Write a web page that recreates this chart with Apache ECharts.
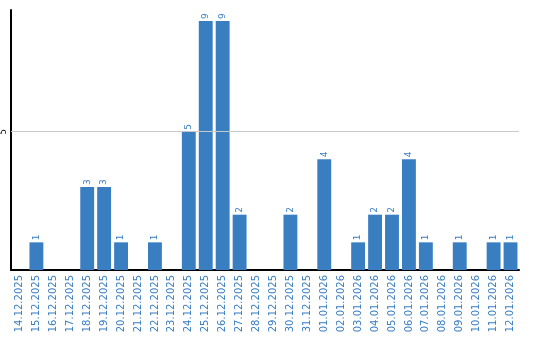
<!DOCTYPE html>
<html><head><meta charset="utf-8">
<script src="https://cdn.jsdelivr.net/npm/echarts@6/dist/echarts.min.js"></script>
<style>html,body{margin:0;padding:0;background:#fff}#c{width:540px;height:340px}</style>
</head><body><div id="c"></div>
<script>
const categories = ["14.12.2025","15.12.2025","16.12.2025","17.12.2025","18.12.2025","19.12.2025","20.12.2025","21.12.2025","22.12.2025","23.12.2025","24.12.2025","25.12.2025","26.12.2025","27.12.2025","28.12.2025","29.12.2025","30.12.2025","31.12.2025","01.01.2026","02.01.2026","03.01.2026","04.01.2026","05.01.2026","06.01.2026","07.01.2026","08.01.2026","09.01.2026","10.01.2026","11.01.2026","12.01.2026"];
const values = [0,1,0,0,3,3,1,0,1,0,5,9,9,2,0,0,2,0,4,0,1,2,2,4,1,0,1,0,1,1];
const yTicks = [5];

const chart = echarts.init(document.getElementById('c'));
chart.setOption({
  animation: false,
  grid: {left: 9, right: 21, top: 10, bottom: 70, containLabel: false},
  xAxis: {
    type: 'category', data: categories,
    axisLine: {show: true, lineStyle: {color: '#000', width: 2}},
    axisTick: {show: false},
    axisLabel: {rotate: 90, interval: 0, color: '#3a7ec2', fontFamily: 'DejaVu Sans', fontSize: 10, margin: 5}
  },
  yAxis: {
    type: 'value', min: 0, max: 9.4, interval: 5,
    axisLine: {show: true, lineStyle: {color: '#000', width: 2}},
    axisTick: {show: false},
    splitLine: {show: false},
    axisLabel: {
      color: '#000', fontFamily: 'DejaVu Sans', fontSize: 8, rotate: 90, margin: 3,
      align: 'center', verticalAlign: 'bottom',
      formatter: v => yTicks.includes(v) ? String(v) : ''
    }
  },
  series: [{
    type: 'bar', data: values, barCategoryGap: '18%',
    itemStyle: {color: '#3a7ec2'},
    label: {
      show: true, position: 'top', rotate: 90, align: 'left', verticalAlign: 'middle',
      distance: 2, color: '#3a7ec2', fontFamily: 'DejaVu Sans', fontSize: 9,
      formatter: p => p.value > 0 ? String(p.value) : ''
    },
    markLine: {
      silent: true, symbol: 'none', label: {show: false},
      lineStyle: {color: '#c8c8c8', type: 'solid', width: 1},
      data: yTicks.map(t => ({yAxis: t}))
    },
    z: 3
  }]
});
</script></body></html>
